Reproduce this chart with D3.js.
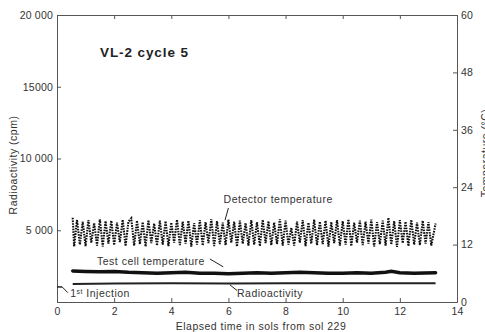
<!DOCTYPE html>
<html>
<head>
<meta charset="utf-8">
<script src="https://cdn.jsdelivr.net/npm/d3@7"></script>
<style>
  body { margin: 0; background: #fff; }
  svg { display: block; }
  text { font-family: "Liberation Sans", "DejaVu Sans", sans-serif; fill: #333; letter-spacing: 0.5px; }
  .axis path, .axis line { stroke: #555; stroke-width: 1; }
  .axis text { font-size: 10.5px; fill: #333; letter-spacing: 0.2px; }
</style>
</head>
<body>
<figure id="chart" style="margin:0"></figure>
<script>
// ---- data ----
const xTicks = [0, 2, 4, 6, 8, 10, 12, 14];
const yTicks = [0, 5000, 10000, 15000, 20000];
const yTickLabels = ["", "5 000", "10 000", "15000", "20 000"];
const tTicks = [0, 12, 24, 36, 48, 60];

// detector temperature (°C), [sol, value]
const detectorTemp = [
  [0.55, 17.6], [0.6, 11.6], [0.7, 17.2], [0.8, 12.0], [0.9, 16.8], [1.0, 11.7], [1.1, 17.1], [1.2, 12.4],
  [1.3, 16.5], [1.4, 11.8], [1.5, 17.3], [1.6, 11.6], [1.7, 16.9], [1.8, 12.2], [1.9, 17.0], [2.0, 11.9],
  [2.1, 16.6], [2.2, 12.5], [2.3, 17.2], [2.4, 11.7], [2.5, 16.8], [2.6, 17.5], [2.7, 11.8], [2.8, 17.0],
  [2.9, 12.1], [3.0, 16.7], [3.1, 11.6], [3.2, 17.1], [3.3, 12.3], [3.4, 16.4], [3.5, 11.8], [3.6, 17.0],
  [3.7, 12.0], [3.8, 16.9], [3.9, 11.7], [4.0, 16.6], [4.1, 12.4], [4.2, 17.2], [4.3, 11.9], [4.4, 16.8],
  [4.5, 12.2], [4.6, 17.0], [4.7, 11.6], [4.8, 16.5], [4.9, 12.0], [5.0, 17.1], [5.1, 11.8], [5.2, 16.7],
  [5.3, 12.3], [5.4, 17.3], [5.5, 11.7], [5.6, 16.9], [5.7, 12.1], [5.8, 16.6], [5.9, 11.9], [6.0, 17.2],
  [6.1, 12.4], [6.2, 16.8], [6.3, 11.6], [6.4, 17.0], [6.5, 12.2], [6.6, 16.5], [6.7, 11.8], [6.8, 17.1],
  [6.9, 12.0], [7.0, 16.7], [7.1, 11.7], [7.2, 17.2], [7.3, 12.3], [7.4, 16.9], [7.5, 11.9], [7.6, 16.6],
  [7.7, 12.1], [7.8, 17.3], [7.9, 11.8], [8.0, 17.0], [8.1, 12.0], [8.2, 15.5], [8.3, 11.8], [8.4, 16.8],
  [8.5, 12.4], [8.6, 17.1], [8.7, 11.7], [8.8, 16.6], [8.9, 12.2], [9.0, 17.2], [9.1, 11.9], [9.2, 16.8],
  [9.3, 12.1], [9.4, 17.0], [9.5, 11.6], [9.6, 16.7], [9.7, 12.3], [9.8, 17.1], [9.9, 11.8], [10.0, 16.9],
  [10.1, 12.0], [10.2, 17.3], [10.3, 11.7], [10.4, 16.6], [10.5, 12.4], [10.6, 17.0], [10.7, 11.9], [10.8, 16.8],
  [10.9, 12.2], [11.0, 17.2], [11.1, 11.6], [11.2, 16.7], [11.3, 12.1], [11.4, 17.0], [11.5, 11.8], [11.6, 17.6],
  [11.7, 12.0], [11.8, 16.9], [11.9, 11.5], [12.0, 17.1], [12.1, 12.3], [12.2, 16.8], [12.3, 11.7], [12.4, 17.2],
  [12.5, 12.0], [12.6, 16.6], [12.7, 11.9], [12.8, 17.0], [12.9, 12.2], [13.0, 16.7], [13.1, 11.8], [13.25, 16.4]
];

// test cell temperature (°C)
const testCellTemp = [
  [0.55, 6.5], [1.0, 6.4], [1.5, 6.3], [2.0, 6.4], [2.5, 6.2], [3.0, 6.1], [3.5, 6.0], [4.0, 6.1],
  [4.5, 6.2], [5.0, 6.0], [5.5, 6.0], [6.0, 5.9], [6.5, 6.0], [7.0, 6.1], [7.5, 6.0], [8.0, 6.1],
  [8.5, 6.2], [9.0, 6.1], [9.5, 6.0], [10.0, 6.0], [10.5, 6.1], [11.0, 6.0], [11.5, 6.2], [11.7, 6.4],
  [12.0, 6.1], [12.5, 6.0], [13.25, 6.1]
];

// radioactivity (cpm)
const preInjection = [[0, 1050], [0.18, 1050]];
const radioactivity = [
  [0.55, 1250], [2.0, 1290], [4.0, 1300], [6.0, 1290], [8.0, 1300], [10.0, 1300], [12.0, 1310], [13.25, 1310]
];

// ---- layout ----
const WIDTH = 485, HEIGHT = 332;
const MARGIN = { top: 15, right: 28, bottom: 30, left: 57 };
const INNER_WIDTH = WIDTH - MARGIN.left - MARGIN.right;
const INNER_HEIGHT = HEIGHT - MARGIN.top - MARGIN.bottom;

const svg = d3.select("#chart").append("svg")
  .attr("width", WIDTH).attr("height", HEIGHT);
const g = svg.append("g")
  .attr("transform", "translate(" + MARGIN.left + "," + MARGIN.top + ")");

const x = d3.scaleLinear().domain([0, 14]).range([0, INNER_WIDTH]);
const y = d3.scaleLinear().domain([0, 20000]).range([INNER_HEIGHT, 0]);
const yT = d3.scaleLinear().domain([0, 60]).range([INNER_HEIGHT, 0]);

// axes
g.append("g").attr("class", "axis")
  .attr("transform", "translate(0," + INNER_HEIGHT + ")")
  .call(d3.axisBottom(x).tickValues(xTicks).tickSize(-4).tickSizeOuter(0).tickPadding(6));

g.append("g").attr("class", "axis")
  .call(d3.axisTop(x).tickValues(xTicks).tickSize(-4).tickSizeOuter(0).tickFormat(""));

g.append("g").attr("class", "axis")
  .call(d3.axisLeft(y).tickValues(yTicks).tickSize(-4).tickSizeOuter(0).tickPadding(4)
    .tickFormat((d, i) => yTickLabels[i]));

g.append("g").attr("class", "axis")
  .attr("transform", "translate(" + INNER_WIDTH + ",0)")
  .call(d3.axisRight(yT).tickValues(tTicks).tickSize(-4).tickSizeOuter(0).tickPadding(4));

// axis titles
svg.append("text")
  .attr("transform", "translate(17,165) rotate(-90)")
  .style("text-anchor", "middle").style("font-size", "10.5px")
  .text("Radioactivity (cpm)");

svg.append("text")
  .attr("transform", "translate(489,153) rotate(-90)")
  .style("text-anchor", "middle").style("font-size", "10.5px")
  .text("Temperature (°C)");

svg.append("text")
  .attr("x", 261).attr("y", 330)
  .style("text-anchor", "middle").style("font-size", "10.5px")
  .text("Elapsed time in sols from sol 229");

g.append("text")
  .attr("x", 43).attr("y", 42)
  .style("font-size", "13.5px").style("font-weight", "bold").style("fill", "#222")
  .style("letter-spacing", "0.9px")
  .text("VL-2 cycle 5");

// series
const lineT = d3.line().x(d => x(d[0])).y(d => yT(d[1]));
const lineR = d3.line().x(d => x(d[0])).y(d => y(d[1]));

g.append("path")
  .attr("fill", "none").attr("stroke", "#111")
  .attr("stroke-width", 2.1).attr("stroke-dasharray", "1.6 1.1")
  .attr("d", lineT(detectorTemp));

g.append("path")
  .attr("fill", "none").attr("stroke", "#111")
  .attr("stroke-width", 3.5).attr("stroke-linecap", "round")
  .attr("d", lineT(testCellTemp));

g.append("path")
  .attr("fill", "none").attr("stroke", "#222")
  .attr("stroke-width", 2)
  .attr("d", lineR(radioactivity));

g.append("path")
  .attr("fill", "none").attr("stroke", "#222")
  .attr("stroke-width", 1.5)
  .attr("d", lineR(preInjection));

// annotations
const ann = g.append("g").style("font-size", "10.5px");
const leader = (x1, y1, x2, y2) => g.append("line")
  .attr("x1", x1).attr("y1", y1).attr("x2", x2).attr("y2", y2)
  .attr("stroke", "#222").attr("stroke-width", 1);

ann.append("text").attr("x", x(5.83)).attr("y", y(6900)).text("Detector temperature");
leader(x(6.0), y(6550), x(5.88), y(5700));

ann.append("text").attr("x", x(1.4)).attr("y", y(2580)).text("Test cell temperature");
leader(x(5.35), y(3000), x(5.82), y(2450));

ann.append("text").attr("x", x(6.3)).attr("y", y(340)).text("Radioactivity");
leader(x(6.05), y(1200), x(6.3), y(800));

const inj = ann.append("text").attr("x", x(0.46)).attr("y", y(340));
inj.append("tspan").text("1");
inj.append("tspan").attr("dy", -3).style("font-size", "7px").text("st");
inj.append("tspan").attr("dy", 3).text(" Injection");
leader(x(0.18), y(1050), x(0.38), y(650));
</script>
</body>
</html>
